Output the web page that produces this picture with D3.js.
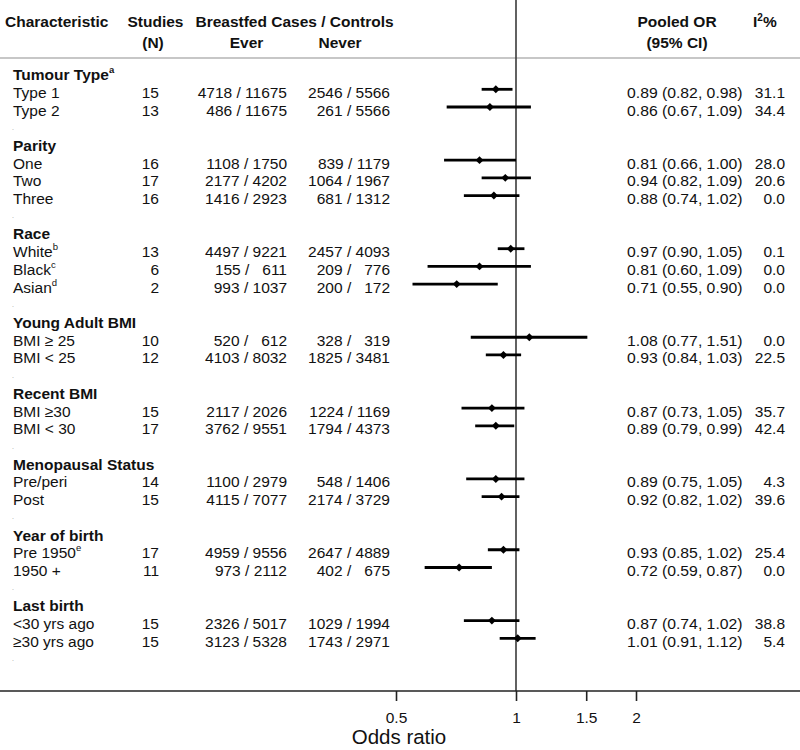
<!DOCTYPE html>
<html>
<head>
<meta charset="utf-8">
<script src="https://cdn.jsdelivr.net/npm/d3@7"></script>
<style>
  html, body { margin: 0; padding: 0; background: #fff; }
  svg { display: block; }
  text { font-family: "Liberation Sans", Arial, Helvetica, sans-serif; fill: #111; }
</style>
</head>
<body>
<svg id="chart" width="800" height="750"></svg>
<script>
// ---------------- DATA ----------------
const groups = ["Tumour Type", "Parity", "Race", "Young Adult BMI", "Recent BMI", "Menopausal Status", "Year of birth", "Last birth"];
const groupSup = ["a", "", "", "", "", "", "", ""];
const subgroupLabels = ["Type 1", "Type 2", "One", "Two", "Three", "White", "Black", "Asian",
  "BMI \u2265 25", "BMI < 25", "BMI \u226530", "BMI < 30", "Pre/peri", "Post", "Pre 1950", "1950 +",
  "<30 yrs ago", "\u226530 yrs ago"];
const subgroupSup = ["", "", "", "", "", "b", "c", "d", "", "", "", "", "", "", "e", "", "", ""];
const subgroupGroup = [0, 0, 1, 1, 1, 2, 2, 2, 3, 3, 4, 4, 5, 5, 6, 6, 7, 7];
const studies = [15, 13, 16, 17, 16, 13, 6, 2, 10, 12, 15, 17, 14, 15, 17, 11, 15, 15];
const everCases = [4718, 486, 1108, 2177, 1416, 4497, 155, 993, 520, 4103, 2117, 3762, 1100, 4115, 4959, 973, 2326, 3123];
const everControls = [11675, 11675, 1750, 4202, 2923, 9221, 611, 1037, 612, 8032, 2026, 9551, 2979, 7077, 9556, 2112, 5017, 5328];
const neverCases = [2546, 261, 839, 1064, 681, 2457, 209, 200, 328, 1825, 1224, 1794, 548, 2174, 2647, 402, 1029, 1743];
const neverControls = [5566, 5566, 1179, 1967, 1312, 4093, 776, 172, 319, 3481, 1169, 4373, 1406, 3729, 4889, 675, 1994, 2971];
const orValues = [0.89, 0.86, 0.81, 0.94, 0.88, 0.97, 0.81, 0.71, 1.08, 0.93, 0.87, 0.89, 0.89, 0.92, 0.93, 0.72, 0.87, 1.01];
const ciLower = [0.82, 0.67, 0.66, 0.82, 0.74, 0.90, 0.60, 0.55, 0.77, 0.84, 0.73, 0.79, 0.75, 0.82, 0.85, 0.59, 0.74, 0.91];
const ciUpper = [0.98, 1.09, 1.00, 1.09, 1.02, 1.05, 1.09, 0.90, 1.51, 1.03, 1.05, 0.99, 1.05, 1.02, 1.02, 0.87, 1.02, 1.12];
const i2Values = [31.1, 34.4, 28.0, 20.6, 0.0, 0.1, 0.0, 0.0, 0.0, 22.5, 35.7, 42.4, 4.3, 39.6, 25.4, 0.0, 38.8, 5.4];
const xTicks = [0.5, 1, 1.5, 2];

// ---------------- BUILD ROWS ----------------
const rows = [];
groups.forEach((g, gi) => {
  rows.push({ type: "group", label: g, sup: groupSup[gi] });
  subgroupLabels.forEach((lab, i) => {
    if (subgroupGroup[i] === gi) rows.push({ type: "item", idx: i, label: lab, sup: subgroupSup[i] });
  });
  rows.push({ type: "dot" });
});

// ---------------- SCALES ----------------
const svg = d3.select("#chart");
const W = 800;
const rowStep = 17.71;
const y = d3.scaleLinear().domain([0, rows.length - 1]).range([71.6, 71.6 + (rows.length - 1) * rowStep]);
const x = d3.scaleLog().domain([0.5, 2]).range([396, 636]);

const FS = 15.5;
const baseOff = 8.5;
const FIG = "\u2007"; // figure space (digit width)
const pad4 = v => { const s = String(v); return s.length < 4 ? FIG.repeat(4 - s.length) + s : s; };
const pair = (a, b) => `${a} / ${pad4(b)}`;

// ---------------- HEADER ----------------
const hdr = svg.append("g").attr("font-weight", "bold").attr("font-size", FS);
hdr.append("text").attr("x", 5).attr("y", 27).text("Characteristic");
hdr.append("text").attr("x", 155.5).attr("y", 27).attr("text-anchor", "middle").text("Studies");
hdr.append("text").attr("x", 153).attr("y", 48).attr("text-anchor", "middle").text("(N)");
hdr.append("text").attr("x", 294.5).attr("y", 27).attr("text-anchor", "middle").text("Breastfed Cases / Controls");
hdr.append("text").attr("x", 246.5).attr("y", 48).attr("text-anchor", "middle").text("Ever");
hdr.append("text").attr("x", 340).attr("y", 48).attr("text-anchor", "middle").text("Never");
hdr.append("text").attr("x", 677).attr("y", 27).attr("text-anchor", "middle").text("Pooled OR");
hdr.append("text").attr("x", 677).attr("y", 48).attr("text-anchor", "middle").text("(95% CI)");
const i2t = hdr.append("text").attr("x", 753).attr("y", 27);
i2t.append("tspan").text("I");
i2t.append("tspan").attr("font-size", 10).attr("dy", -6).text("2");
i2t.append("tspan").attr("dy", 6).text("%");

// header separator
svg.append("line").attr("x1", 0).attr("x2", W).attr("y1", 58).attr("y2", 58)
  .attr("stroke", "#b5b5b5").attr("stroke-width", 1.5);

// ---------------- REFERENCE LINE & AXIS ----------------
const axisY = 691;
svg.append("line").attr("x1", x(1)).attr("x2", x(1)).attr("y1", 0).attr("y2", axisY)
  .attr("stroke", "#3a3a3a").attr("stroke-width", 1.6);

svg.append("line").attr("x1", 0).attr("x2", W).attr("y1", axisY).attr("y2", axisY)
  .attr("stroke", "#222").attr("stroke-width", 1.5);

const axis = d3.axisBottom(x).tickValues(xTicks).tickFormat(d3.format("")).tickSize(10).tickPadding(11);
const axG = svg.append("g").attr("transform", `translate(0,${axisY})`).call(axis);
axG.select(".domain").remove();
axG.selectAll(".tick line").attr("stroke", "#222").attr("stroke-width", 1.6);
axG.selectAll(".tick text").attr("font-size", FS).attr("fill", "#111")
  .attr("font-family", "'Liberation Sans', Arial, sans-serif");

svg.append("text").attr("x", 399).attr("y", 744).attr("text-anchor", "middle")
  .attr("font-size", 20.5).text("Odds ratio");

// ---------------- ROWS ----------------
const rg = svg.append("g").attr("font-size", FS);
const f2 = d3.format(".2f");
rows.forEach((r, ri) => {
  const yc = y(ri);
  if (r.type === "group") {
    const t = rg.append("text").attr("x", 13).attr("y", yc + baseOff).attr("font-weight", "bold").text(r.label);
    if (r.sup) t.append("tspan").attr("font-size", 9.5).attr("dy", -7).text(r.sup);
  } else if (r.type === "dot") {
    rg.append("text").attr("x", 12).attr("y", yc + 5).attr("font-size", 7)
      .style("fill", "#999").text(".");
  } else {
    const i = r.idx;
    const t = rg.append("text").attr("x", 13).attr("y", yc + baseOff).text(r.label);
    if (r.sup) t.append("tspan").attr("font-size", 9.5).attr("dy", -7).text(r.sup);
    rg.append("text").attr("x", 159).attr("y", yc + baseOff).attr("text-anchor", "end").text(studies[i]);
    // Ever / Never columns
    rg.append("text").attr("x", 287).attr("y", yc + baseOff).attr("text-anchor", "end")
      .attr("xml:space", "preserve").text(pair(everCases[i], everControls[i]));
    rg.append("text").attr("x", 390).attr("y", yc + baseOff).attr("text-anchor", "end")
      .attr("xml:space", "preserve").text(pair(neverCases[i], neverControls[i]));
    // OR text
    rg.append("text").attr("x", 627).attr("y", yc + baseOff)
      .attr("textLength", 115.5).attr("lengthAdjust", "spacingAndGlyphs")
      .text(`${f2(orValues[i])} (${f2(ciLower[i])}, ${f2(ciUpper[i])})`);
    rg.append("text").attr("x", 785).attr("y", yc + baseOff).attr("text-anchor", "end")
      .text(d3.format(".1f")(i2Values[i]));
    // CI line
    rg.append("line").attr("x1", x(ciLower[i])).attr("x2", x(ciUpper[i]))
      .attr("y1", yc).attr("y2", yc).attr("stroke", "#000").attr("stroke-width", 2.8);
    // diamond marker
    rg.append("path").attr("d", d3.symbol().type(d3.symbolDiamond2).size(40)())
      .attr("transform", `translate(${x(orValues[i])},${yc})`).attr("fill", "#000");
  }
});
</script>
</body>
</html>
